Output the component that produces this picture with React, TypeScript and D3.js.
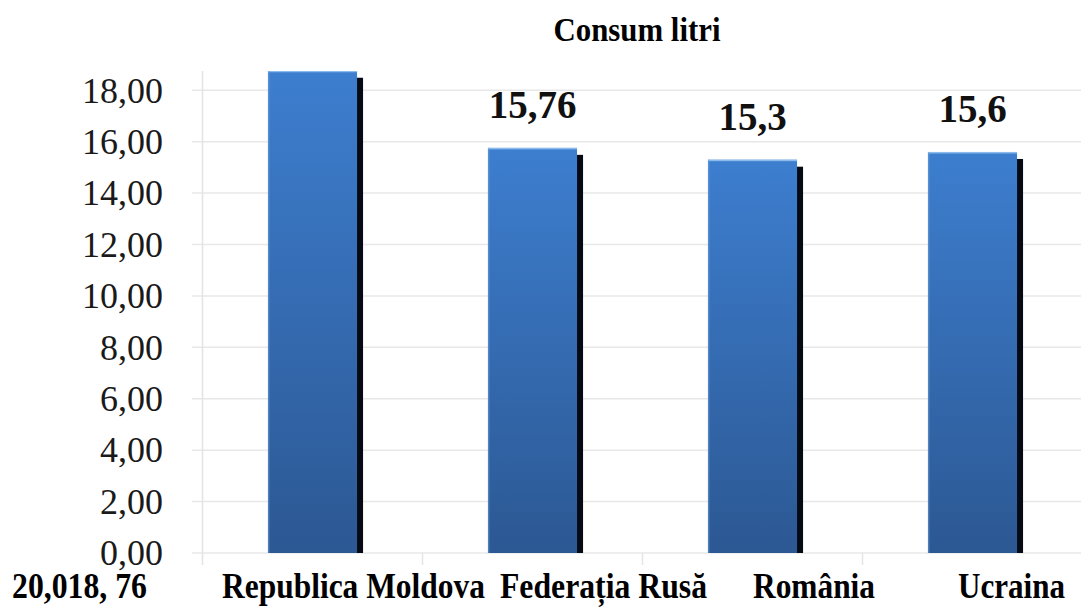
import React from "react";
import * as d3 from "d3";

// ---- data ----
const categories = ["Republica Moldova", "Federația Rusă", "România", "Ucraina"];
const values = [18.76, 15.76, 15.3, 15.6];
const valueLabels = ["", "15,76", "15,3", "15,6"];
const yTicks = [0, 2, 4, 6, 8, 10, 12, 14, 16, 18];
const title = "Consum litri";
const strayLabel = "20,018, 76";

// ---- layout ----
const W = 1081;
const H = 607;
const plotLeft = 202.5;
const plotRight = 1082.5;
const plotTop = 71;
const plotBottom = 553;
const catLabelShift = [41, 71, 61.5, 39];
const catLabelWidth = [263, 207, 122, 107];
const labelBaseline = 598;

const x = d3
  .scaleBand<string>()
  .domain(categories)
  .range([plotLeft, plotRight])
  .paddingInner(0.595)
  .paddingOuter(0.2975);

const y = d3.scaleLinear().domain([0, 18.75]).range([plotBottom, plotTop]);

const fmt = (v: number) => d3.format(".2f")(v).replace(".", ",");

export default function App() {
  const bw = x.bandwidth();
  const step = x.step();
  const serif = "'Liberation Serif', 'Times New Roman', serif";
  return (
    <div style={{ position: "absolute", left: 0, top: 0 }}>
      <svg width={W} height={H} style={{ display: "block", background: "#fff" }}>
        <defs>
          <linearGradient id="barGrad" x1="0" y1="0" x2="0" y2="1">
            <stop offset="0%" stopColor="#3d7ecf" />
            <stop offset="100%" stopColor="#2c5893" />
          </linearGradient>
          <clipPath id="plotClip">
            <rect x={0} y={plotTop} width={W} height={plotBottom - plotTop + 20} />
          </clipPath>
        </defs>

        {/* title */}
        <text
          x={637}
          y={41}
          textAnchor="middle"
          fontFamily={serif}
          fontWeight="bold"
          fontSize={34}
          textLength={167}
          lengthAdjust="spacingAndGlyphs"
          fill="#000"
        >
          {title}
        </text>

        {/* gridlines */}
        {yTicks.map((t) => (
          <line
            key={"g" + t}
            x1={192}
            x2={W}
            y1={y(t)}
            y2={y(t)}
            stroke="#e8e8e8"
            strokeWidth={1.5}
          />
        ))}
        {/* axis line */}
        <line x1={plotLeft} x2={plotLeft} y1={plotTop} y2={plotBottom + 12} stroke="#e4e4e4" strokeWidth={1.5} />
        {/* category boundary ticks */}
        {categories.map((c, i) => {
          const xb = (x(c) as number) - step * 0.2975 + step;
          return (
            <line
              key={"t" + i}
              x1={xb}
              x2={xb}
              y1={plotBottom}
              y2={plotBottom + 12}
              stroke="#e4e4e4"
              strokeWidth={1.5}
            />
          );
        })}

        {/* y tick labels */}
        {yTicks.map((t) => (
          <text
            key={"l" + t}
            x={163}
            y={y(t)}
            dy="0.34em"
            textAnchor="end"
            fontFamily={serif}
            fontSize={36}
            fill="#1a1a1a"
          >
            {fmt(t)}
          </text>
        ))}

        {/* bars */}
        <g clipPath="url(#plotClip)">
          {categories.map((c, i) => {
            const x0 = x(c) as number;
            const yt = y(values[i]);
            return (
              <g key={"b" + i}>
                <rect x={x0 + 6} y={yt + 7} width={bw} height={plotBottom - yt - 7} fill="#050a14" />
                <rect x={x0} y={yt} width={bw} height={plotBottom - yt} fill="url(#barGrad)" />
                <rect x={x0} y={yt} width={bw} height={1.5} fill="#9fcbf2" opacity={0.8} />
                <rect x={x0} y={yt} width={1.5} height={plotBottom - yt} fill="#6fa3dc" opacity={0.5} />
              </g>
            );
          })}
        </g>

        {/* value labels */}
        {categories.map((c, i) =>
          valueLabels[i] ? (
            <text
              key={"v" + i}
              x={(x(c) as number) + bw / 2}
              y={y(values[i]) - 29.5}
              textAnchor="middle"
              fontFamily={serif}
              fontWeight="bold"
              fontSize={39}
              fill="#111"
            >
              {valueLabels[i]}
            </text>
          ) : null
        )}

        {/* category labels */}
        {categories.map((c, i) => (
          <text
            key={"c" + i}
            x={(x(c) as number) + bw / 2 + catLabelShift[i]}
            y={labelBaseline}
            textAnchor="middle"
            fontFamily={serif}
            fontWeight="bold"
            fontSize={35}
            textLength={catLabelWidth[i]}
            lengthAdjust="spacingAndGlyphs"
            fill="#000"
          >
            {c}
          </text>
        ))}

        {/* stray label */}
        <text
          x={12}
          y={labelBaseline}
          fontFamily={serif}
          fontWeight="bold"
          fontSize={35}
          textLength={135}
          lengthAdjust="spacingAndGlyphs"
          fill="#000"
        >
          {strayLabel}
        </text>
      </svg>
    </div>
  );
}
